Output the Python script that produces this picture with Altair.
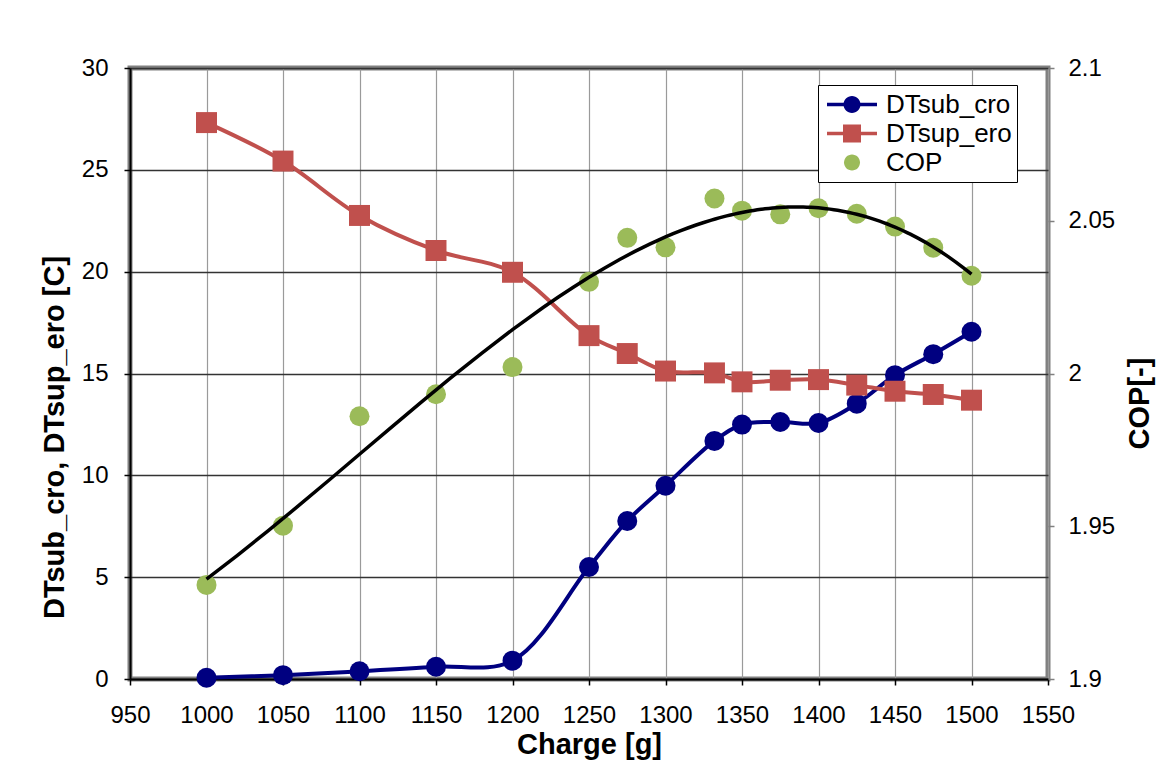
import altair as alt
import pandas as pd

# ---- data ----
charge = [1000, 1050, 1100, 1150, 1200, 1250, 1275, 1300, 1332, 1350, 1375, 1400, 1425, 1450, 1475, 1500]
dtsub_cro = [0.06, 0.19, 0.38, 0.60, 0.90, 5.50, 7.76, 9.49, 11.69, 12.49, 12.62, 12.57, 13.52, 14.92, 15.95, 17.05]
dtsup_ero = [27.32, 25.43, 22.76, 21.04, 19.97, 16.86, 15.98, 15.12, 15.03, 14.59, 14.67, 14.70, 14.43, 14.13, 13.97, 13.69]
cop = [1.9308, 1.9502, 1.9860, 1.9932, 2.0021, 2.0300, 2.0444, 2.0413, 2.0573, 2.0533, 2.0521, 2.0541, 2.0523, 2.0481, 2.0412, 2.0320]

series_names = ["DTsub_cro", "DTsup_ero", "COP"]
series_colors = ["#000080", "#C0504D", "#9BBB59"]
legend_paths = [
    "M-1,-0.07L1,-0.07L1,0.07L-1,0.07Z M0.34,0A0.34,0.34 0 1,1 -0.34,0A0.34,0.34 0 1,1 0.34,0Z",
    "M-1,-0.07L1,-0.07L1,0.07L-1,0.07Z M-0.36,-0.36L0.36,-0.36L0.36,0.36L-0.36,0.36Z",
    "M0.32,0A0.32,0.32 0 1,1 -0.32,0A0.32,0.32 0 1,1 0.32,0Z",
]

x_ticks = [950, 1000, 1050, 1100, 1150, 1200, 1250, 1300, 1350, 1400, 1450, 1500, 1550]
left_ticks = [0, 5, 10, 15, 20, 25, 30]
right_ticks = [1.9, 1.95, 2.0, 2.05, 2.1]

FONT = "Liberation Sans"
NAVY, RED, GREEN = series_colors

rows = []
for name, vals in (("DTsub_cro", dtsub_cro), ("DTsup_ero", dtsup_ero)):
    for c, v in zip(charge, vals):
        rows.append({"charge": c, "value": v, "series": name})
dt_df = pd.DataFrame(rows)
cop_df = pd.DataFrame({"charge": charge, "cop": cop, "series": "COP"})
legend_df = pd.DataFrame({"series": series_names})

x_enc = alt.X(
    "charge:Q",
    scale=alt.Scale(domain=[950, 1550], nice=False, zero=False),
    axis=alt.Axis(
        values=x_ticks, title="Charge [g]", format="d",
        labelFont=FONT, labelFontSize=24, labelColor="black",
        labelBaseline="alphabetic", labelPadding=37,
        labelOverlap=False, labelFlush=False,
        titleFont=FONT, titleFontSize=29, titleFontWeight="bold", titleColor="black",
        titleBaseline="alphabetic", titleY=74,
        grid=True, gridColor="#9a9a9a", gridWidth=1.2,
        tickSize=6, tickColor="black", tickWidth=1.5,
        domainColor="black", domainWidth=2,
    ),
)

y_left = alt.Y(
    "value:Q",
    scale=alt.Scale(domain=[0, 30], nice=False),
    axis=alt.Axis(
        values=left_ticks, title="DTsub_cro, DTsup_ero [C]", orient="left",
        labelFont=FONT, labelFontSize=24, labelColor="black", labelPadding=16,
        titleFont=FONT, titleFontSize=29, titleFontWeight="bold", titleColor="black",
        titleAngle=270, titleAlign="center", titleBaseline="alphabetic",
        titleX=-67, titleY=369,
        grid=True, gridColor="#333333", gridWidth=1.5,
        tickSize=6, tickColor="black", tickWidth=1.5,
        domainColor="black", domainWidth=2,
    ),
)

y_right_axis = alt.Axis(
    values=right_ticks, title="COP[-]", orient="right", format="~g",
    labelFont=FONT, labelFontSize=24, labelColor="black", labelPadding=14,
    titleFont=FONT, titleFontSize=29, titleFontWeight="bold", titleColor="black",
    titleAngle=270, titleAlign="center", titleBaseline="alphabetic",
    titleX=100, titleY=335,
    grid=False, tickSize=6, tickColor="#808080", tickWidth=1.5,
    domain=False,
)
y_right_scale = alt.Scale(domain=[1.9, 2.1], nice=False, zero=False)

base_dt = alt.Chart(dt_df)
sub_data = base_dt.transform_filter(alt.datum.series == "DTsub_cro")
sup_data = base_dt.transform_filter(alt.datum.series == "DTsup_ero")

sub_line = sub_data.mark_line(interpolate="catmull-rom", strokeWidth=4, color=NAVY).encode(x=x_enc, y=y_left)
sub_pts = sub_data.mark_circle(size=400, opacity=1, color=NAVY).encode(x=x_enc, y=y_left)
sup_line = sup_data.mark_line(interpolate="catmull-rom", strokeWidth=4, color=RED).encode(x=x_enc, y=y_left)
sup_pts = sup_data.mark_square(size=440, opacity=1, color=RED).encode(x=x_enc, y=y_left)

leg = alt.Legend(
    title=None, orient="none", legendX=688, legendY=17,
    labelFont=FONT, labelFontSize=26, labelColor="black", labelOffset=9,
    symbolSize=2500, symbolStrokeWidth=0, symbolOpacity=1, symbolOffset=4,
    clipHeight=29, rowPadding=0,
    fillColor="white", strokeColor="black", padding=5,
)
legend_layer = alt.Chart(legend_df).mark_point(filled=True).encode(
    color=alt.Color("series:N", scale=alt.Scale(domain=series_names, range=series_colors), legend=leg),
    shape=alt.Shape("series:N", scale=alt.Scale(domain=series_names, range=legend_paths), legend=leg),
    opacity=alt.value(0),
)

left_layer = alt.layer(sub_line, sub_pts, sup_line, sup_pts, legend_layer)

base_cop = alt.Chart(cop_df)
cop_pts = base_cop.mark_circle(size=400, opacity=1, color=GREEN).encode(
    x=x_enc,
    y=alt.Y("cop:Q", scale=y_right_scale, axis=y_right_axis),
)
trend = base_cop.transform_regression(
    "charge", "cop", method="poly", order=3
).mark_line(color="black", strokeWidth=3.5).encode(
    x=x_enc,
    y=alt.Y("cop:Q", scale=y_right_scale, axis=y_right_axis),
)
right_layer = alt.layer(cop_pts, trend)

chart = alt.layer(left_layer, right_layer).resolve_scale(y="independent").properties(
    width=918, height=611,
    padding={"left": 122, "top": 60, "right": 120, "bottom": 88},
    autosize=alt.AutoSizeParams(type="none"),
    background="white",
).configure_view(
    stroke="#808080", strokeWidth=5
)

chart.save("out.html", embed_options={"renderer": "svg", "actions": False})
